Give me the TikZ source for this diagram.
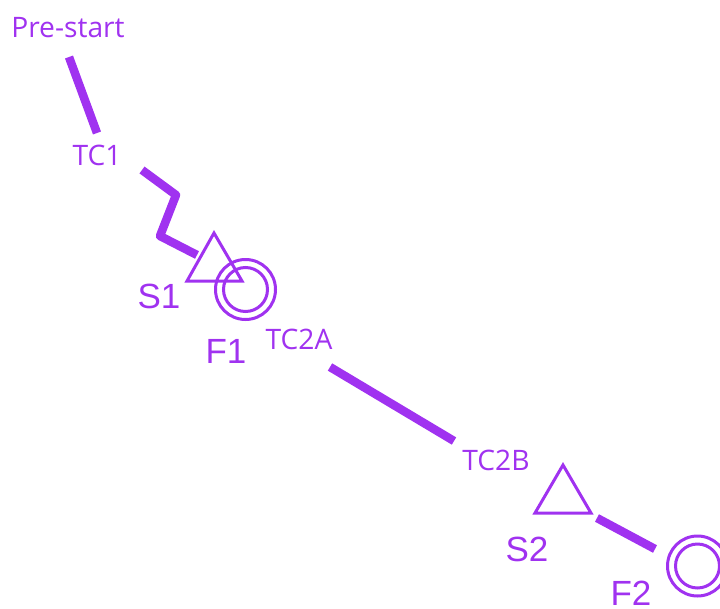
\documentclass[tikz,border=0pt]{standalone}
\usepackage{fontspec}
\setmainfont{Liberation Sans}
\newfontfamily\uifont{Open Sans}
\definecolor{pv}{RGB}{160,50,240}
\tikzset{
  route/.style={draw=pv,line width=8.5pt,line join=round},
  outline/.style={draw=pv,line width=3pt,fill=none,line join=miter},
  ringout/.style={circle,draw=pv,line width=3pt,minimum size=60pt,inner sep=0pt},
  ringin/.style={circle,draw=pv,line width=3pt,minimum size=44pt,inner sep=0pt},
  small/.style={text=pv,font=\uifont\fontsize{28.2}{28.2}\selectfont,inner sep=0pt},
  big/.style={text=pv,font=\fontsize{35}{35}\selectfont,inner sep=0pt}
}
\begin{document}
\begin{tikzpicture}[x=1pt,y=-1pt]
\useasboundingbox (0,0) rectangle (720,608);
\clip (0,0) rectangle (720,608);
\node[small] (prestart) at (68,28) {Pre-start};
\node[small] (tc1) at (97,155) {TC1};
\node[small] (tc2a) at (299,339) {TC2A};
\node[small] (tc2b) at (496,460) {TC2B};
\node[big] (s1) at (159,296) {S1};
\node[big] (f1) at (226,351) {F1};
\node[big] (s2) at (527,549) {S2};
\node[big] (f2) at (631,593) {F2};
\coordinate (a1) at (69,57);
\coordinate (a2) at (97,133);
\coordinate (b1) at (142,170);
\coordinate (b2) at (176,195);
\coordinate (b3) at (160,236);
\coordinate (b4) at (197,255);
\coordinate (c1) at (330,367);
\coordinate (c2) at (454,441);
\coordinate (d1) at (597,518);
\coordinate (d2) at (655,549);
\coordinate (t1a) at (214,233);
\coordinate (t1b) at (187,281);
\coordinate (t1c) at (242,281);
\coordinate (t2a) at (563,465);
\coordinate (t2b) at (535,513);
\coordinate (t2c) at (591,513);
\draw[route] (a1) -- (a2);
\draw[route] (b1) -- (b2) -- (b3) -- (b4);
\draw[route] (c1) -- (c2);
\draw[route] (d1) -- (d2);
\draw[outline] (t1a) -- (t1b) -- (t1c) -- cycle;
\draw[outline] (t2a) -- (t2b) -- (t2c) -- cycle;
\node[ringout] (f1o) at (245.5,289.5) {};
\node[ringin] (f1i) at (245.5,289.5) {};
\node[ringout] (f2o) at (697.5,566) {};
\node[ringin] (f2i) at (697.5,566) {};
\end{tikzpicture}
\end{document}
